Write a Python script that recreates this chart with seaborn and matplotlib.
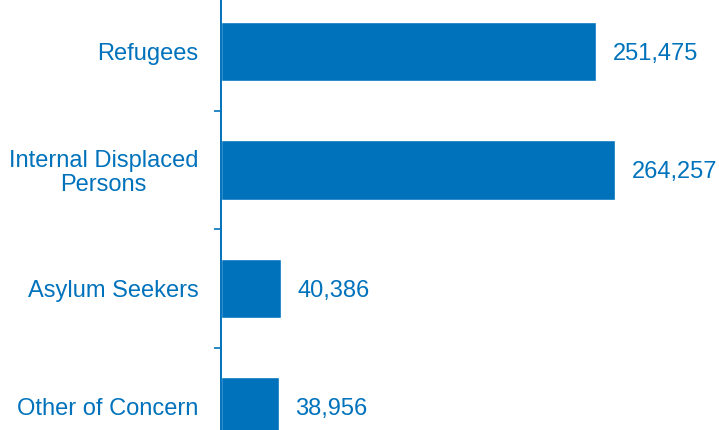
import matplotlib
matplotlib.use("Agg")
import matplotlib.pyplot as plt
from matplotlib.ticker import FixedLocator
import pandas as pd
import seaborn as sns

categories = ["Refugees", "Internal Displaced\nPersons", "Asylum Seekers", "Other of Concern"]
values = [251475, 264257, 40386, 38956]
value_labels = ["251,475", "264,257", "40,386", "38,956"]

blue = "#0072BC"

sns.set_theme(style="white")
plt.rcParams["font.family"] = ["Liberation Sans", "DejaVu Sans"]

df = pd.DataFrame({"category": categories, "value": values})

fig = plt.figure(figsize=(7.19, 4.30), dpi=100)
ax = fig.add_axes([0.3067, -0.0837, 0.6933, 1.1017])

sns.barplot(data=df, x="value", y="category", orient="h", color=blue,
            saturation=1, width=0.5, ax=ax)

ax.set_xlim(0, 334000)
ax.set_ylim(3.5, -0.5)
ax.set_xlabel("")
ax.set_ylabel("")
ax.set_xticks([])

for s in ["top", "right", "bottom"]:
    ax.spines[s].set_visible(False)
ax.spines["left"].set_color(blue)
ax.spines["left"].set_linewidth(1.4)

ax.yaxis.set_minor_locator(FixedLocator([0.5, 1.5, 2.5]))
ax.tick_params(axis="y", which="major", length=0, pad=16, labelsize=17, labelcolor=blue)
ax.tick_params(axis="y", which="minor", left=True, length=5, width=1.2, color=blue, direction="out")
for lab in ax.get_yticklabels():
    lab.set_multialignment("center")
    lab.set_linespacing(1.1)

for i, (v, t) in enumerate(zip(values, value_labels)):
    ax.annotate(t, xy=(v, i), xytext=(12, 0), textcoords="offset points",
                va="center_baseline", ha="left", fontsize=17, color=blue)

fig.savefig("out.png", dpi=100)
